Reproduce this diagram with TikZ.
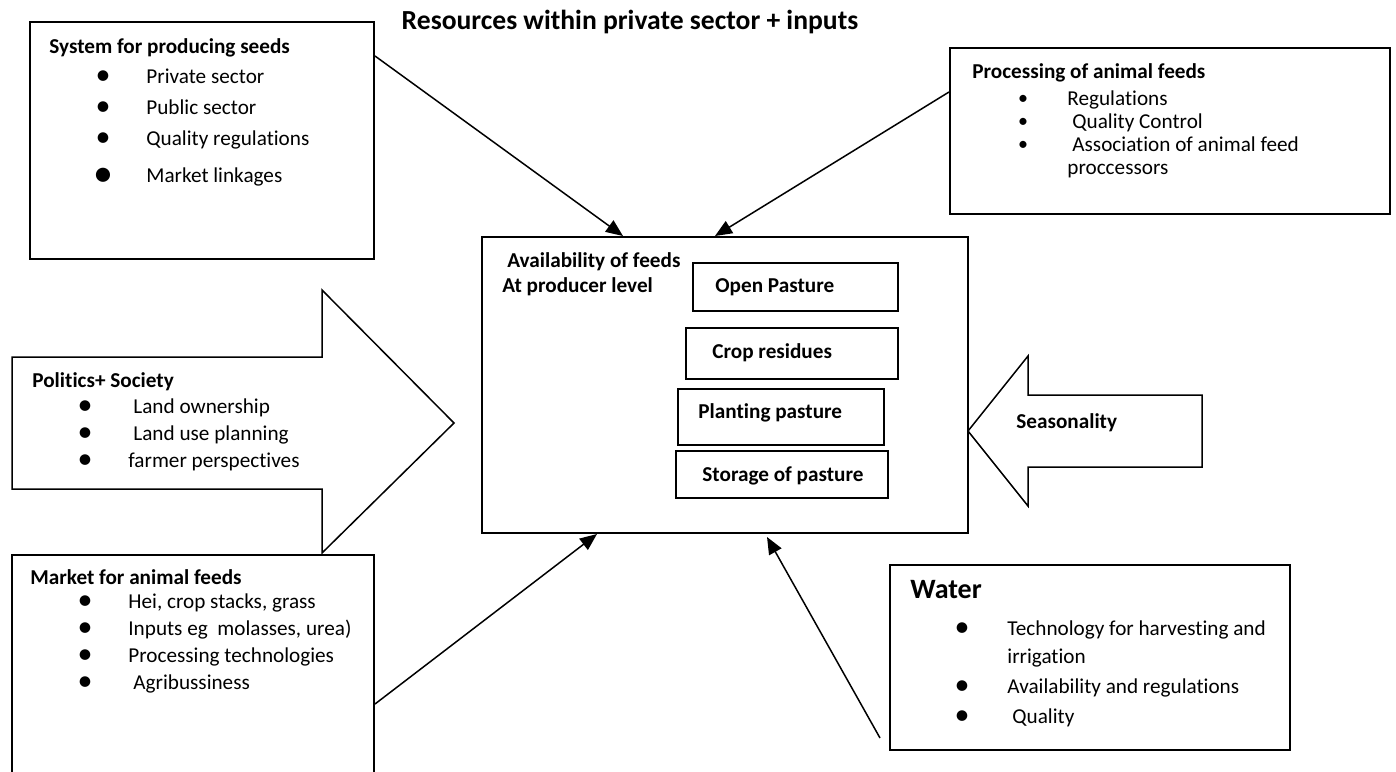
\documentclass[tikz,border=0pt]{standalone}
\usepackage{fontspec}
\setmainfont{Carlito}[Ligatures=NoCommon]
\usetikzlibrary{arrows.meta, fit, calc}

\tikzset{
  box/.style={draw, line width=1pt, inner sep=0pt},
  txt/.style={anchor=west, inner sep=0pt, text height=7.5pt, text depth=2pt, font=\fontsize{10.6}{12.7}\selectfont},
  head/.style={txt, font=\fontsize{10.6}{12.7}\selectfont\bfseries},
  dot/.style={anchor=center, inner sep=0pt, font=\fontsize{15}{15}\selectfont},
  smalldot/.style={dot, font=\fontsize{10}{10}\selectfont},
  feed/.style={-{Triangle[length=8.5pt, width=7pt]}, line width=0.75pt},
  blockarrow/.style={draw, line width=0.75pt, line join=miter},
}

\begin{document}
\begin{tikzpicture}[x=0.5pt, y=-0.5pt]
\useasboundingbox (0,0) rectangle (1396,771);
% title
\node[inner sep=0pt, font=\fontsize{13.8}{16}\selectfont\bfseries] (title) at (630,22) {Resources within private sector + inputs};

% seeds
\node[box, fit={(30,22) (374,259)}] (seeds) {};
\node[head] (seedsHead) at (49,48) {System for producing seeds};
\foreach \y/\item [count=\i] in {78/Private sector, 109/Public sector, 140/Quality regulations} {
  \node[dot] (seedsDot\i) at (103,\y) {•};
  \node[txt] (seedsItem\i) at (146,\y) {\item};
}
\node[dot, font=\fontsize{20}{20}\selectfont] (seedsDot4) at (103,177) {•};
\node[txt] (seedsItem4) at (146,177) {Market linkages};

% processing of animal feeds
\node[box, fit={(950,48) (1390,214)}] (proc) {};
\node[head] (procHead) at (972,73) {Processing of animal feeds};
\foreach \y/\x/\item [count=\i] in {100/1067/Regulations, 123/1072/Quality Control, 146/1072/Association of animal feed} {
  \node[smalldot] (procDot\i) at (1023,\y) {•};
  \node[txt] (procItem\i) at (\x,\y) {\item};
}
\node[txt] (procItem4) at (1067,169) {proccessors};

% availability of feeds
\node[box, fit={(482,237) (968,533)}] (avail) {};
\node[head] (availHead) at (507,262) {Availability of feeds};
\node[head] (availSub) at (502,287) {At producer level};
\node[box, fit={(693,263) (898,311)}] (open) {};
\node[head] (openText) at (715,287) {Open Pasture};
\node[box, fit={(686,328) (898,379)}] (crop) {};
\node[head] (cropText) at (712,353) {Crop residues};
\node[box, fit={(678,389) (884,445)}] (plant) {};
\node[head] (plantText) at (698,413) {Planting pasture};
\node[box, fit={(676,451) (888,498)}] (store) {};
\node[head] (storeText) at (702,476) {Storage of pasture};

% politics + society
\draw[blockarrow] (12,357) -- (322,357) -- (322,290) -- (454,423) -- (322,553) -- (322,489) -- (12,489) -- cycle;
\node[head] (polHead) at (32,382) {Politics+ Society};
\foreach \y/\x/\item [count=\i] in {408/133/Land ownership, 435/133/Land use planning, 462/128/farmer perspectives} {
  \node[dot] (polDot\i) at (85,\y) {•};
  \node[txt] (polItem\i) at (\x,\y) {\item};
}

% seasonality
\draw[blockarrow] (968,431) -- (1028,356) -- (1028,395) -- (1202,395) -- (1202,467) -- (1028,467) -- (1028,506) -- cycle;
\node[head] (season) at (1016,423) {Seasonality};

% market for animal feeds
\node[box, fit={(12,555) (374,790)}] (market) {};
\node[head] (marketHead) at (30,579) {Market for animal feeds};
\foreach \y/\x/\item [count=\i] in {603/128/{Hei, crop stacks, grass}, 630/128/{Inputs eg\ \ molasses, urea)}, 657/128/Processing technologies, 684/133/Agribussiness} {
  \node[dot] (marketDot\i) at (85,\y) {•};
  \node[txt] (marketItem\i) at (\x,\y) {\item};
}

% water
\node[box, fit={(890,565) (1290,750)}] (water) {};
\node[txt, font=\fontsize{14}{16}\selectfont\bfseries] (waterHead) at (910,593) {Water};
\node[dot] (waterDot1) at (962,630) {•};
\node[txt] (waterItem1) at (1007,630) {Technology for harvesting and};
\node[txt] (waterItem1b) at (1007,658) {irrigation};
\node[dot] (waterDot2) at (962,688) {•};
\node[txt] (waterItem2) at (1007,688) {Availability and regulations};
\node[dot] (waterDot3) at (962,718) {•};
\node[txt] (waterItem3) at (1012,718) {Quality};

% connectors
\coordinate (seedsOut) at ($(seeds.north east)+(0,35)$);
\coordinate (procOut) at ($(proc.north west)+(0,45)$);
\coordinate (marketOut) at ($(market.north east)+(0,150)$);
\coordinate (waterOut) at ($(water.south west)+(-9,-13)$);
\draw[feed] (seedsOut) -- ($(avail.north west)+(142,0)$);
\draw[feed] (procOut) -- ($(avail.north west)+(234,0)$);
\draw[feed] (marketOut) -- ($(avail.south west)+(116,0)$);
\draw[feed] (waterOut) -- ($(avail.south west)+(286,3)$);
\end{tikzpicture}
\end{document}
